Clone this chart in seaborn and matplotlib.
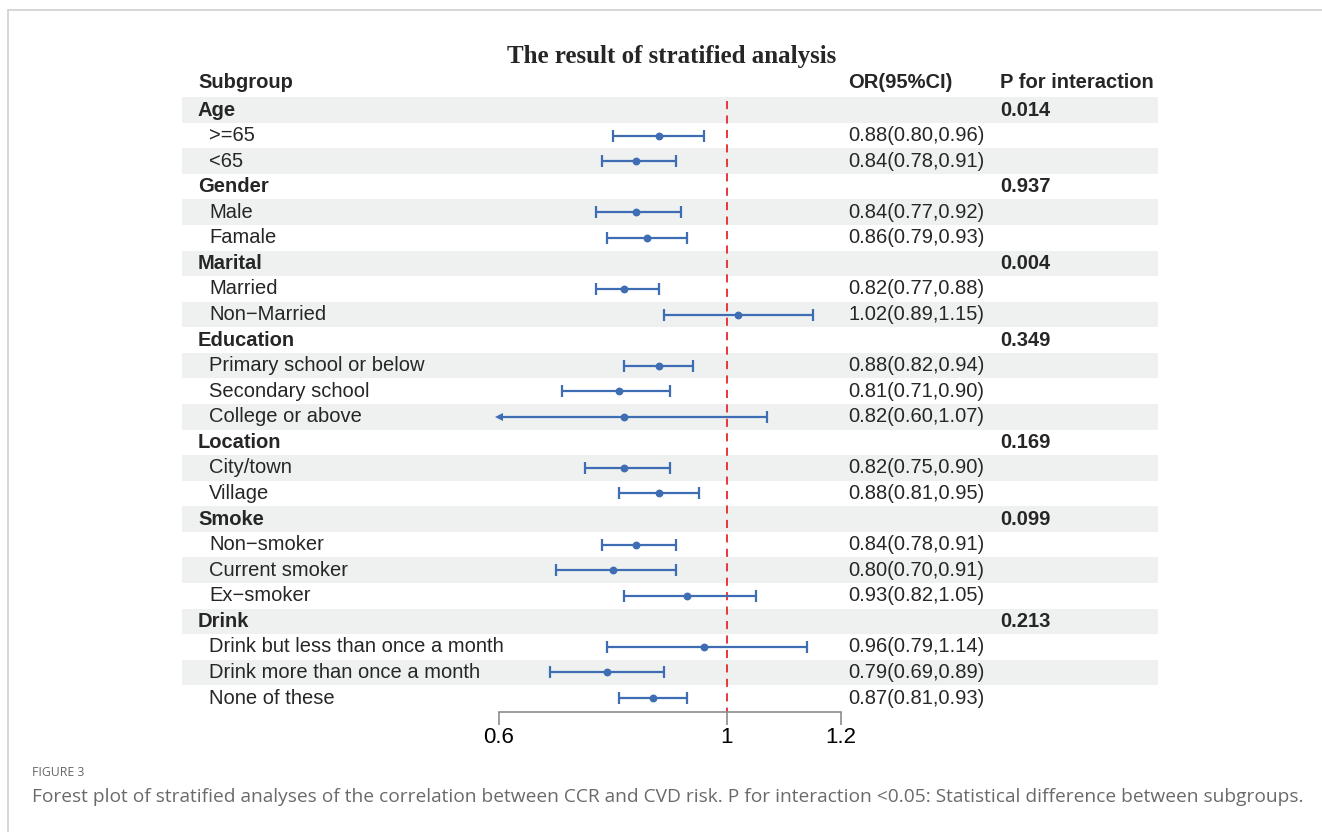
"""
Forest plot of the stratified analysis (OR with 95% CI per subgroup).
"""

import matplotlib.pyplot as plt
import matplotlib.transforms as mtrans
import numpy as np
import seaborn as sns
from matplotlib.lines import Line2D

labels = [
    "Age", ">=65", "<65",
    "Gender", "Male", "Famale",
    "Marital", "Married", "Non\u2212Married",
    "Education", "Primary school or below", "Secondary school", "College or above",
    "Location", "City/town", "Village",
    "Smoke", "Non\u2212smoker", "Current smoker", "Ex\u2212smoker",
    "Drink", "Drink but less than once a month", "Drink more than once a month", "None of these",
]
is_group = [
    True, False, False,
    True, False, False,
    True, False, False,
    True, False, False, False,
    True, False, False,
    True, False, False, False,
    True, False, False, False,
]
nan = np.nan
or_vals = [nan, 0.88, 0.84, nan, 0.84, 0.86, nan, 0.82, 1.02, nan, 0.88, 0.81, 0.82,
           nan, 0.82, 0.88, nan, 0.84, 0.80, 0.93, nan, 0.96, 0.79, 0.87]
ci_low = [nan, 0.80, 0.78, nan, 0.77, 0.79, nan, 0.77, 0.89, nan, 0.82, 0.71, 0.60,
          nan, 0.75, 0.81, nan, 0.78, 0.70, 0.82, nan, 0.79, 0.69, 0.81]
ci_high = [nan, 0.96, 0.91, nan, 0.92, 0.93, nan, 0.88, 1.15, nan, 0.94, 0.90, 1.07,
           nan, 0.90, 0.95, nan, 0.91, 0.91, 1.05, nan, 1.14, 0.89, 0.93]
p_interaction = {"Age": "0.014", "Gender": "0.937", "Marital": "0.004", "Education": "0.349",
                 "Location": "0.169", "Smoke": "0.099", "Drink": "0.213"}
x_ticks = [0.6, 1, 1.2]
x_tick_labels = ["0.6", "1", "1.2"]

BLUE = "#3f6db3"
STRIPE = "#eef1f0"
RED = "#e8282b"

sns.set_theme(style="white")
plt.rcParams["font.family"] = ["Liberation Sans", "DejaVu Sans"]

W, H = 1322, 832
fig = plt.figure(figsize=(W / 100, H / 100), dpi=100)


def fx(px):
    return px / W


def fy(py):
    return 1 - py / H


# axes spans the striped area; x mapped so 0.6 -> 499px, 1.2 -> 841px
ax = fig.add_axes([fx(182), fy(712), fx(1158) - fx(182), fy(70) - fy(712)])
ppu = (841 - 499) / 0.6
ax.set_xlim(0.6 - (499 - 182) / ppu, 0.6 + (1158 - 499) / ppu)
row_h = (698 - 110) / 23
ax.set_ylim((712 - 110) / row_h, (70 - 110) / row_h)

rows = np.arange(len(labels))
for i in rows[::2]:
    ax.axhspan(i - 0.5, i + 0.5, color=STRIPE, lw=0, zorder=0)

ax.vlines(1, -0.35, (712 - 110) / row_h, color=RED, lw=1.3,
          linestyles=(0, (4.5, 3.5)), zorder=1)

or_arr = np.array(or_vals)
lo_arr = np.array(ci_low)
hi_arr = np.array(ci_high)
xmin = x_ticks[0]
clipped = lo_arr <= xmin
lo_draw = np.where(clipped, xmin, lo_arr)

ax.hlines(rows, lo_draw, hi_arr, color=BLUE, lw=1.6, zorder=2)
ax.plot(hi_arr, rows, ls="none", marker="|", ms=8, mew=1.6, color=BLUE, zorder=2)
ax.plot(np.where(clipped, nan, lo_arr), rows, ls="none", marker="|", ms=8, mew=1.6,
        color=BLUE, zorder=2)
ax.plot(np.where(clipped, xmin, nan), rows, ls="none", marker="<", ms=6, mew=0,
        color=BLUE, zorder=3)
sns.scatterplot(x=or_arr, y=rows, ax=ax, s=32, color=BLUE, edgecolor=BLUE,
                linewidth=0, zorder=4, legend=False)

for s in ["left", "top", "right"]:
    ax.spines[s].set_visible(False)
ax.spines["bottom"].set_bounds(x_ticks[0], x_ticks[-1])
ax.spines["bottom"].set_color("#8c8c8c")
ax.spines["bottom"].set_linewidth(1.2)
ax.set_xticks(x_ticks)
ax.set_xticklabels(x_tick_labels, fontsize=16)
ax.set_yticks([])
ax.tick_params(axis="x", direction="out", length=9, width=1.2, color="#8c8c8c",
               pad=2, bottom=True, labelcolor="black")

# text columns: x in figure fraction, y in row units
tr = mtrans.blended_transform_factory(fig.transFigure, ax.transData)
fs = 14.5
head_y = (82 - 110) / row_h
fig.text(fx(198), head_y, "Subgroup", transform=tr, fontsize=fs, weight="bold", va="center")
fig.text(fx(848), head_y, "OR(95%CI)", transform=tr, fontsize=fs, weight="bold", va="center")
fig.text(fx(1000), head_y, "P for interaction", transform=tr, fontsize=fs, weight="bold",
         va="center")
for i, lab in enumerate(labels):
    if is_group[i]:
        fig.text(fx(198), i, lab, transform=tr, fontsize=fs, weight="bold", va="center")
        fig.text(fx(1000), i, p_interaction[lab], transform=tr, fontsize=fs,
                 weight="bold", va="center")
    else:
        fig.text(fx(209), i, lab, transform=tr, fontsize=fs, va="center")
        txt = f"{or_vals[i]:.2f}({ci_low[i]:.2f},{ci_high[i]:.2f})"
        fig.text(fx(848), i, txt, transform=tr, fontsize=fs, va="center")

fig.text(fx(672), fy(56), "The result of stratified analysis", ha="center", va="center",
         family=["Liberation Serif", "DejaVu Serif"], weight="bold", fontsize=18)

# frame of the figure panel
fig.add_artist(Line2D([fx(8), 1], [fy(10), fy(10)], color="#cfcfcf", lw=1.2))
fig.add_artist(Line2D([fx(8), fx(8)], [fy(10), 0], color="#cfcfcf", lw=1.2))

cap_font = ["Open Sans", "DejaVu Sans"]
fig.text(fx(32), fy(772), "FIGURE 3", family=cap_font, fontsize=8.8, color="#666666",
         va="center")
fig.text(fx(32), fy(797),
         "Forest plot of stratified analyses of the correlation between CCR and CVD risk. "
         "P for interaction <0.05: Statistical difference between subgroups.",
         family=cap_font, fontsize=13.8, color="#6a6a6a", va="center")

fig.savefig("out.png", dpi=100)
